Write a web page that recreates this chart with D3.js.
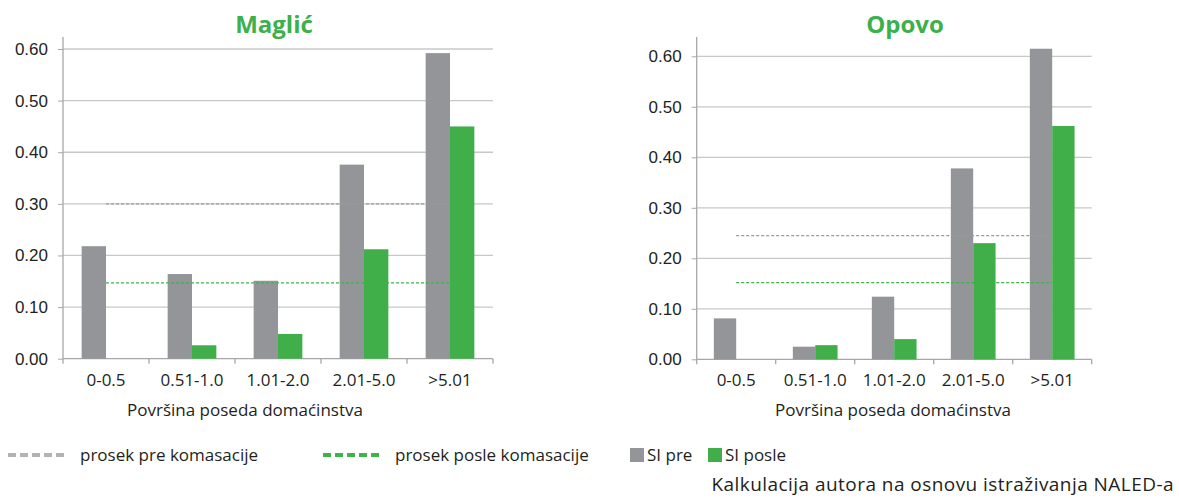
<!DOCTYPE html>
<html>
<head>
<meta charset="utf-8">
<script src="https://cdn.jsdelivr.net/npm/d3@7"></script>
<style>
  body { margin: 0; background: #fff; }
  svg { font-family: "Open Sans", sans-serif; }
</style>
</head>
<body>
<div class="canvas"></div>
<script>
// data
const categories = ["0-0.5", "0.51-1.0", "1.01-2.0", "2.01-5.0", ">5.01"];
const yTicks = [0, 0.1, 0.2, 0.3, 0.4, 0.5, 0.6];

const magPre = [0.218, 0.164, 0.151, 0.376, 0.592];
const magPosle = [0, 0.026, 0.048, 0.212, 0.45];
const magAvg = [0.3, 0.147]; // pre, posle

const opPre = [0.081, 0.025, 0.124, 0.378, 0.615];
const opPosle = [0, 0.028, 0.04, 0.23, 0.462];
const opAvg = [0.245, 0.152];

const colors = { pre: "#939598", posle: "#40ae49", grid: "#c8c8c8", axis: "#a7a7a7", text: "#231f20" };

const svg = d3
  .select(".canvas")
  .append("svg")
  .attr("width", 1179)
  .attr("height", 498);

// one panel per municipality
const drawPanel = (opts) => {
  const { title, pre, posle, avg, left, right, bottom, top, axisTop, titleX, xTitleX } = opts;

  const x = d3.scaleBand().domain(categories).range([left, right]);
  const xSub = d3.scaleBand().domain(["pre", "posle"]).range([0, x.bandwidth()]).paddingOuter(0.766);
  const y = d3.scaleLinear().domain([0, 0.6]).range([bottom, top]);

  const g = svg.append("g");

  // gridlines
  g.append("g")
    .selectAll("line")
    .data(yTicks.slice(1))
    .enter()
    .append("line")
    .attr("x1", left)
    .attr("x2", right)
    .attr("y1", (d) => y(d))
    .attr("y2", (d) => y(d))
    .attr("stroke", colors.grid)
    .attr("stroke-width", 1.3);

  // y axis
  const yAxis = g
    .append("g")
    .attr("transform", `translate(${left},0)`)
    .call(d3.axisLeft(y).tickValues(yTicks).tickFormat(d3.format(".2f")).tickSize(5).tickPadding(10));
  yAxis.select(".domain").remove();
  yAxis.selectAll("line").attr("stroke", colors.axis);
  yAxis.selectAll("text").attr("fill", colors.text).style("font-size", "17px");
  g.append("line")
    .attr("x1", left).attr("x2", left)
    .attr("y1", axisTop).attr("y2", bottom + 5)
    .attr("stroke", colors.axis).attr("stroke-width", 1.3);

  // x axis with ticks at band edges
  g.append("line")
    .attr("x1", left).attr("x2", right)
    .attr("y1", bottom).attr("y2", bottom)
    .attr("stroke", colors.axis).attr("stroke-width", 1.3);
  g.append("g")
    .selectAll("line")
    .data(categories.map((c) => x(c)).concat([right]).slice(1))
    .enter()
    .append("line")
    .attr("x1", (d) => d).attr("x2", (d) => d)
    .attr("y1", bottom).attr("y2", bottom + 5)
    .attr("stroke", colors.axis).attr("stroke-width", 1.3);

  g.append("g")
    .selectAll("text")
    .data(categories)
    .enter()
    .append("text")
    .attr("x", (d) => x(d) + x.bandwidth() / 2)
    .attr("y", bottom + 27)
    .attr("text-anchor", "middle")
    .attr("fill", colors.text)
    .style("font-size", "17px")
    .text((d) => d);

  // bars
  const rows = categories.map((c, i) => ({ c, pre: pre[i], posle: posle[i] }));
  ["pre", "posle"].forEach((key) => {
    g.append("g")
      .selectAll("rect")
      .data(rows.filter((d) => d[key] > 0))
      .enter()
      .append("rect")
      .attr("x", (d) => x(d.c) + xSub(key))
      .attr("width", xSub.bandwidth())
      .attr("y", (d) => y(d[key]))
      .attr("height", (d) => y(0) - y(d[key]))
      .attr("fill", colors[key]);
  });

  // average lines, from first band centre to last band centre
  const cx0 = x(categories[0]) + x.bandwidth() / 2;
  const cx1 = x(categories[categories.length - 1]) + x.bandwidth() / 2;
  [["pre", "#9a9a9a"], ["posle", "#3cb44b"]].forEach(([key, col], i) => {
    g.append("line")
      .attr("x1", cx0).attr("x2", cx1)
      .attr("y1", y(avg[i])).attr("y2", y(avg[i]))
      .attr("stroke", col)
      .attr("stroke-width", 1.3)
      .attr("stroke-dasharray", "3,2");
  });

  // titles
  g.append("text")
    .attr("x", titleX)
    .attr("y", 33)
    .attr("text-anchor", "middle")
    .attr("fill", "#3cb04b")
    .style("font-size", "24px")
    .style("font-weight", "bold")
    .text(title);

  g.append("text")
    .attr("x", xTitleX)
    .attr("y", bottom + 57)
    .attr("text-anchor", "middle")
    .attr("fill", colors.text)
    .style("font-size", "17px")
    .text("Površina poseda domaćinstva");
};

drawPanel({ title: "Maglić", pre: magPre, posle: magPosle, avg: magAvg,
  left: 63, right: 493, bottom: 358.7, top: 49, axisTop: 37, titleX: 274, xTitleX: 245 });
drawPanel({ title: "Opovo", pre: opPre, posle: opPosle, avg: opAvg,
  left: 696.7, right: 1091.7, bottom: 359.3, top: 56.3, axisTop: 37, titleX: 905, xTitleX: 893 });

// legend
const legend = svg.append("g").attr("transform", "translate(0,455)");

const lineItems = [
  { label: "prosek pre komasacije", col: "#b3b3b3", x: 8 },
  { label: "prosek posle komasacije", col: "#3cb44b", x: 323 }
];
lineItems.forEach((d) => {
  legend.append("line")
    .attr("x1", d.x).attr("x2", d.x + 58)
    .attr("y1", 0).attr("y2", 0)
    .attr("stroke", d.col)
    .attr("stroke-width", 4)
    .attr("stroke-dasharray", "8,4");
  legend.append("text")
    .attr("x", d.x + 72)
    .attr("y", 0)
    .attr("dy", "0.35em")
    .attr("fill", colors.text)
    .style("font-size", "17px")
    .text(d.label);
});

const boxItems = [
  { label: "SI pre", col: colors.pre, x: 630 },
  { label: "SI posle", col: colors.posle, x: 708 }
];
boxItems.forEach((d) => {
  legend.append("rect")
    .attr("x", d.x).attr("y", -7)
    .attr("width", 14).attr("height", 14)
    .attr("fill", d.col);
  legend.append("text")
    .attr("x", d.x + 17)
    .attr("y", 0)
    .attr("dy", "0.35em")
    .attr("fill", colors.text)
    .style("font-size", "17px")
    .text(d.label);
});

svg.append("text")
  .attr("x", 1174)
  .attr("y", 491)
  .attr("text-anchor", "end")
  .attr("fill", colors.text)
  .style("font-size", "19px")
  .style("letter-spacing", "0.45px")
  .text("Kalkulacija autora na osnovu istraživanja NALED-a");
</script>
</body>
</html>
